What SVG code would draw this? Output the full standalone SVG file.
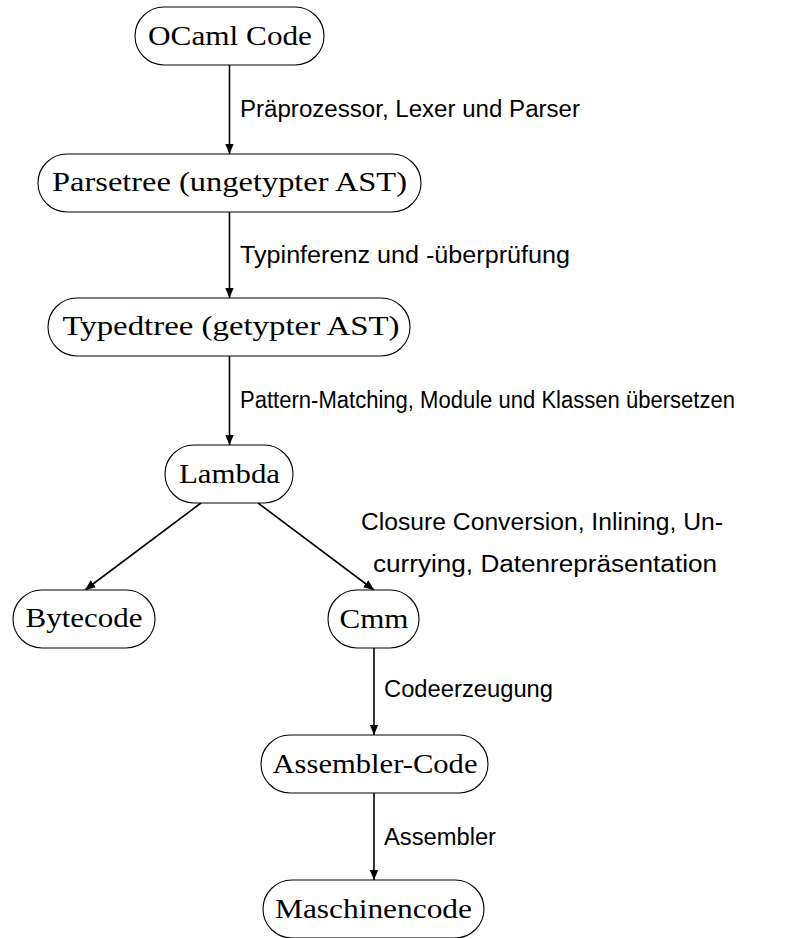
<svg xmlns="http://www.w3.org/2000/svg" width="806" height="938" viewBox="0 0 806 938">
<defs>
<style>
.box{fill:#fff;stroke:#000;stroke-width:1.1}
.nt{font-family:"Liberation Serif","DejaVu Serif",serif;font-size:27px;fill:#000;text-anchor:middle}
.lb{font-family:"Liberation Sans","DejaVu Sans",sans-serif;font-size:23px;fill:#000}
.edge{stroke:#000;stroke-width:1.6;fill:none;marker-end:url(#ah)}
</style>
<marker id="ah" viewBox="0 0 10 10" refX="10" refY="5" markerWidth="6.5" markerHeight="6.5" markerUnits="strokeWidth" orient="auto">
<path d="M0,0.8 L10,5 L0,9.2 Z" fill="#000"/>
</marker>
</defs>
<rect width="806" height="938" fill="#fff"/>
<g id="connectors">
<line class="edge" x1="229.5" y1="65" x2="229.5" y2="154"/>
<line class="edge" x1="229.5" y1="212" x2="229.5" y2="298"/>
<line class="edge" x1="229.5" y1="356" x2="229.5" y2="445"/>
<line class="edge" x1="201" y1="503" x2="85" y2="590"/>
<line class="edge" x1="258" y1="503" x2="374" y2="590"/>
<line class="edge" x1="374" y1="648" x2="374" y2="735"/>
<line class="edge" x1="374" y1="793" x2="374" y2="880"/>
<text class="lb" x="240" y="117" textLength="340" lengthAdjust="spacingAndGlyphs">Präprozessor, Lexer und Parser</text>
<text class="lb" x="240" y="263" textLength="330" lengthAdjust="spacingAndGlyphs">Typinferenz und -überprüfung</text>
<text class="lb" x="240" y="408" textLength="495" lengthAdjust="spacingAndGlyphs">Pattern-Matching, Module und Klassen übersetzen</text>
<text class="lb" x="361" y="530" textLength="362" lengthAdjust="spacingAndGlyphs">Closure Conversion, Inlining, Un-</text>
<text class="lb" x="373" y="572" textLength="344" lengthAdjust="spacingAndGlyphs">currying, Datenrepräsentation</text>
<text class="lb" x="384" y="697" textLength="169" lengthAdjust="spacingAndGlyphs">Codeerzeugung</text>
<text class="lb" x="384" y="845" textLength="112" lengthAdjust="spacingAndGlyphs">Assembler</text>
</g>
<g id="ocaml"><rect class="box" x="135" y="7" width="189" height="58" rx="29"/><text class="nt" x="230" y="45" textLength="164" lengthAdjust="spacingAndGlyphs">OCaml Code</text></g>
<g id="parsetree"><rect class="box" x="38" y="154" width="383" height="58" rx="29"/><text class="nt" x="229.5" y="191" textLength="355" lengthAdjust="spacingAndGlyphs">Parsetree (ungetypter AST)</text></g>
<g id="typedtree"><rect class="box" x="48" y="298" width="362" height="58" rx="29"/><text class="nt" x="231" y="335" textLength="337" lengthAdjust="spacingAndGlyphs">Typedtree (getypter AST)</text></g>
<g id="lambda"><rect class="box" x="165" y="445" width="128" height="58" rx="29"/><text class="nt" x="229.5" y="483" textLength="101" lengthAdjust="spacingAndGlyphs">Lambda</text></g>
<g id="bytecode"><rect class="box" x="13" y="590" width="142" height="58" rx="29"/><text class="nt" x="84" y="627" textLength="117" lengthAdjust="spacingAndGlyphs">Bytecode</text></g>
<g id="cmm"><rect class="box" x="328" y="590" width="91" height="58" rx="29"/><text class="nt" x="374" y="628" textLength="69" lengthAdjust="spacingAndGlyphs">Cmm</text></g>
<g id="assembler"><rect class="box" x="261" y="735" width="227" height="58" rx="29"/><text class="nt" x="375" y="773" textLength="205" lengthAdjust="spacingAndGlyphs">Assembler-Code</text></g>
<g id="maschinencode"><rect class="box" x="263" y="880" width="221" height="58" rx="29"/><text class="nt" x="373.5" y="918" textLength="197" lengthAdjust="spacingAndGlyphs">Maschinencode</text></g>
</svg>
